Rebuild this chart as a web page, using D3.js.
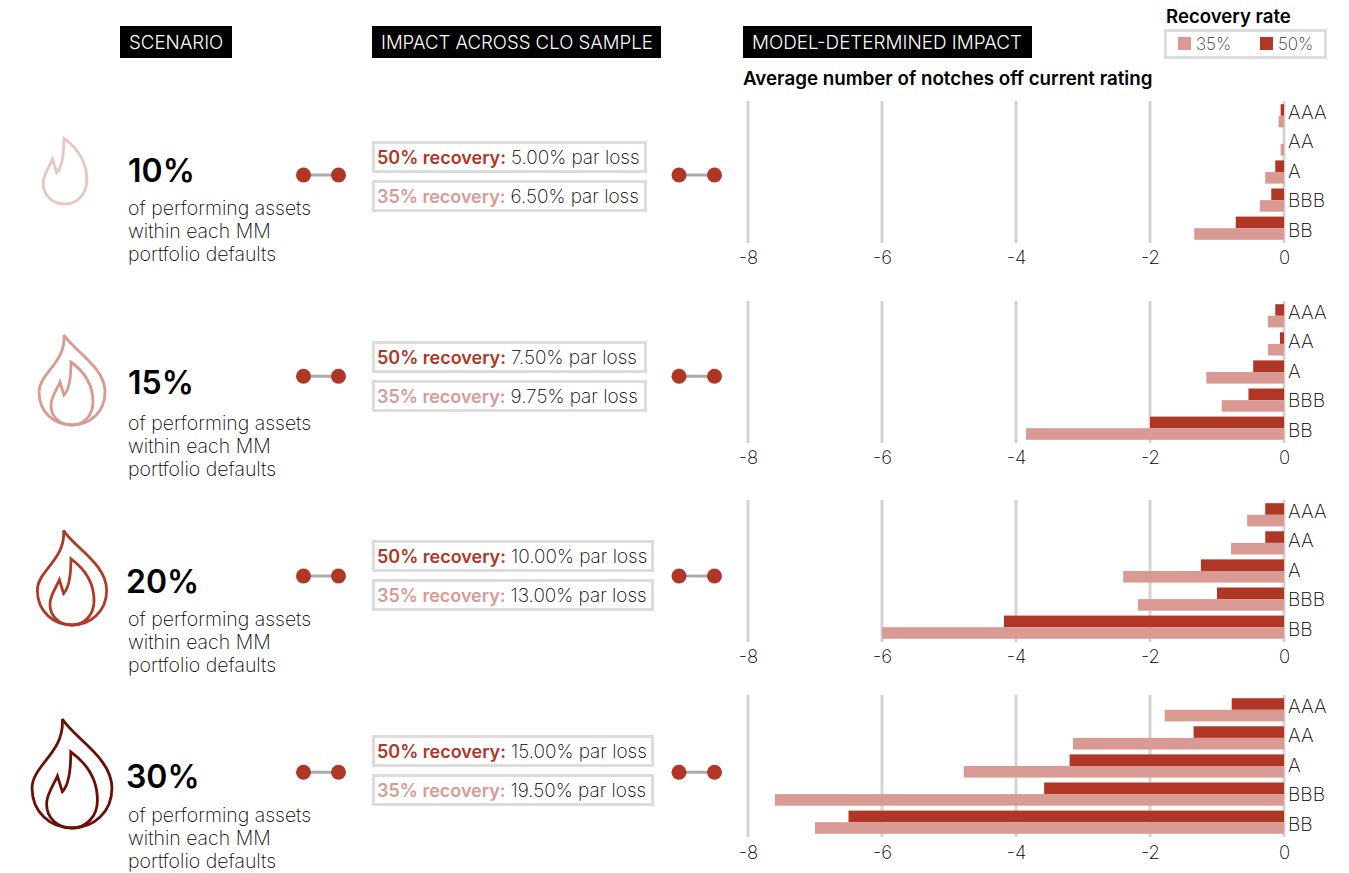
<!DOCTYPE html>
<html><head><meta charset="utf-8">
<script src="https://cdnjs.cloudflare.com/ajax/libs/d3/7.8.5/d3.min.js"></script>
<style>
html,body{margin:0;padding:0;background:#fff}
svg{display:block}
text{font-family:Inter,"Noto Sans",sans-serif;font-weight:250;fill:#000}
.b{font-weight:600}
</style></head><body><svg id="c" width="1349" height="873"></svg>
<script>
const ratings=["AAA","AA","A","BBB","BB"];
const ticks=[-8,-6,-4,-2,0];
const scenarios=["10%","15%","20%","30%"];
const loss50=["5.00%","7.50%","10.00%","15.00%"];
const loss35=["6.50%","9.75%","13.00%","19.50%"];
const rec50=[[-0.05,0,-0.13,-0.19,-0.72],[-0.13,-0.06,-0.46,-0.53,-2.0],[-0.28,-0.28,-1.24,-1.0,-4.18],[-0.78,-1.35,-3.2,-3.58,-6.5]];
const rec35=[[-0.08,-0.05,-0.28,-0.36,-1.34],[-0.24,-0.24,-1.16,-0.93,-3.85],[-0.55,-0.79,-2.4,-2.18,-6.0],[-1.78,-3.15,-4.78,-7.6,-7.0]];
const flameColors=["#e9c5bf","#d99a92","#b03a28","#6b1005"];
const C50="#b03626",C35="#d99a94",GRID="#d4d4d4",BOX="#dcdcdc";

const layout=[
 {top:101,axisY:257,conn:175,pct:[128,181.5],desc:215,box1:142,box2:181,fx:65,fy:204,fs:1.04,outer:false},
 {top:301,axisY:457,conn:376.3,pct:[128,394],desc:430,box1:342,box2:381,fx:72,fy:425,fs:1,outer:true},
 {top:500,axisY:656,conn:576,pct:[126,592.5],desc:626,box1:541,box2:580,fx:72,fy:625,fs:1.05,outer:true},
 {top:695,axisY:852,conn:772.3,pct:[126,787.5],desc:822,box1:736,box2:775,fx:72,fy:828,fs:1.21,outer:true}
];
const boxWidths=[272,272,279,279];
const outerD="M-8,-90C2,-74 33,-58 33,-33C33,-13 18,0 0,0C-18,0 -33,-13 -33,-33C-33,-52 -6,-62 -8,-90Z";
const innerD="M-1,-63C10,-55 21,-42 21,-23C21,-10 12,0 0,0C-12,0 -21,-8 -21,-20C-21,-28 -15,-36 -12,-43L-8,-30C-3,-35 -1,-48 -1,-63Z";

const svg=d3.select("#c");
const x=d3.scaleLinear().domain([-8,0]).range([748,1284]);
const y=d3.scaleBand().domain(ratings);

[["SCENARIO",120,112,18.7],["IMPACT ACROSS CLO SAMPLE",372,289,18.6],["MODEL-DETERMINED IMPACT",743,289,18.85]].forEach(([t,a,w,fs])=>{
 svg.append("rect").attr("x",a).attr("y",26).attr("width",w).attr("height",32).attr("fill","#000");
 svg.append("text").attr("x",a+9).attr("y",49).attr("font-size",fs).style("font-weight",300).style("fill","#fff").text(t);
});
svg.append("text").attr("class","b").attr("x",743).attr("y",85).attr("font-size",18.75).text("Average number of notches off current rating");
svg.append("text").attr("class","b").attr("x",1166).attr("y",23).attr("font-size",18.6).text("Recovery rate");
svg.append("rect").attr("x",1165.5).attr("y",30.5).attr("width",160).attr("height",27).attr("fill","#fff").attr("stroke",BOX).attr("stroke-width",3);
[[1178,C35,"35%"],[1260,C50,"50%"]].forEach(([a,c,t])=>{
 svg.append("rect").attr("x",a).attr("y",37).attr("width",13).attr("height",13).attr("fill",c);
 svg.append("text").attr("x",a+18).attr("y",50).attr("font-size",17).style("fill","#333").text(t);
});

scenarios.forEach((s,i)=>{
 const L=layout[i],g=svg.append("g");
 const f=g.append("g").attr("transform",`translate(${L.fx},${L.fy}) scale(${L.fs})`).attr("fill","none").attr("stroke",flameColors[i]).attr("stroke-width",2.8/L.fs).attr("stroke-linejoin","miter");
 f.append("path").attr("d",innerD);
 if(L.outer) f.append("path").attr("d",outerD);
 g.append("text").attr("class","b").attr("x",L.pct[0]).attr("y",L.pct[1]).attr("font-size",32).style("fill","#000").text(s);
 ["of performing assets","within each MM","portfolio defaults"].forEach((t,k)=>
  g.append("text").attr("x",128).attr("y",L.desc+k*23).attr("font-size",19.5).text(t));
 [[303.5,338.5],[679,714.5]].forEach(([a,b])=>{
  g.append("line").attr("x1",a).attr("x2",b).attr("y1",L.conn).attr("y2",L.conn).attr("stroke","#aaa").attr("stroke-width",3);
  [a,b].forEach(c=>g.append("circle").attr("cx",c).attr("cy",L.conn).attr("r",7.5).attr("fill",C50));
 });
 [[L.box1,"50% recovery:",loss50[i],C50],[L.box2,"35% recovery:",loss35[i],C35]].forEach(([by,lab,val,c])=>{
  g.append("rect").attr("x",373.5).attr("y",by+0.5).attr("width",boxWidths[i]).attr("height",29).attr("fill","#fff").attr("stroke",BOX).attr("stroke-width",3);
  const t=g.append("text").attr("x",377).attr("y",by+22).attr("font-size",18);
  t.append("tspan").attr("class","b").style("fill",c).text(lab);
  t.append("tspan").attr("dx",5).attr("font-size",19).text(val+" par loss");
 });
 ticks.forEach(v=>g.append("line").attr("x1",x(v)).attr("x2",x(v)).attr("y1",L.top).attr("y2",L.top+142).attr("stroke",GRID).attr("stroke-width",3));
 const yy=y.copy().range([L.top+1,L.top+141]);
 const bh=11.6;
 ratings.forEach((r,k)=>{
  const cy=yy(r)+yy.bandwidth()/2+(k-2)*0.1;
  g.append("rect").attr("x",x(rec50[i][k])).attr("y",cy-bh).attr("width",x(0)-x(rec50[i][k])).attr("height",bh).attr("fill",C50);
  g.append("rect").attr("x",x(rec35[i][k])).attr("y",cy).attr("width",x(0)-x(rec35[i][k])).attr("height",bh).attr("fill",C35);
  g.append("text").attr("x",1288).attr("y",L.top+17.5+k*29.5).attr("font-size",19.2).text(r);
 });
 const ax=d3.axisBottom(x).tickValues(ticks).tickSize(0).tickFormat(d=>d===0?"0":"-"+Math.abs(d));
 const axg=g.append("g").attr("transform",`translate(0,${L.axisY-14})`).call(ax);
 axg.select(".domain").remove();
 axg.selectAll("text").attr("font-size",18.5).attr("dy",0).attr("y",14+6.5).style("font-family",'Inter,"Noto Sans",sans-serif').style("font-weight",250).style("fill","#000");
});
</script></body></html>
